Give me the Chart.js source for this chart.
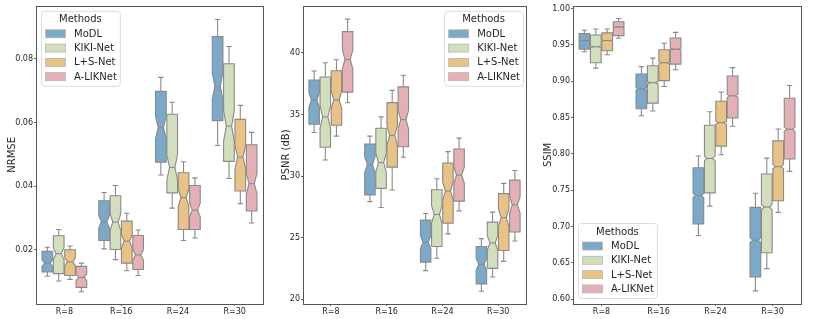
<!DOCTYPE html>
<html><head><meta charset="utf-8">
<script src="https://cdn.jsdelivr.net/npm/chart.js@4.4.1/dist/chart.umd.min.js"></script>
<style>
html,body{margin:0;padding:0;background:#fff;}
#wrap{position:relative;width:830px;height:319px;overflow:hidden;background:#fff;}
.p{position:absolute;top:0;height:319px;}
</style></head><body>
<div id="wrap">
<div class="p" style="left:0px;width:270px"><canvas id="c1"></canvas></div>
<div class="p" style="left:270px;width:275px"><canvas id="c2"></canvas></div>
<div class="p" style="left:540px;width:290px"><canvas id="c3"></canvas></div>
</div>
<script>
// ---------- data ----------
const categories = ['R=8', 'R=16', 'R=24', 'R=30'];
const methods = ['MoDL', 'KIKI-Net', 'L+S-Net', 'A-LIKNet'];
// each entry: [whisker low, Q1, median, Q3, whisker high] per category

const nrmseMoDL  = [[0.0117,0.0130,0.0158,0.0195,0.0208],[0.0203,0.0229,0.0288,0.0354,0.0380],[0.0435,0.0475,0.0584,0.0698,0.0742],[0.0528,0.0606,0.0714,0.0870,0.0924]];
const nrmseKIKI  = [[0.0102,0.0125,0.0188,0.0244,0.0264],[0.0169,0.0201,0.0287,0.0370,0.0402],[0.0331,0.0379,0.0459,0.0626,0.0664],[0.0424,0.0478,0.0589,0.0785,0.0839]];
const nrmseLS    = [[0.0107,0.0119,0.0162,0.0200,0.0212],[0.0134,0.0158,0.0227,0.0290,0.0315],[0.0229,0.0264,0.0364,0.0442,0.0477],[0.0345,0.0385,0.0491,0.0610,0.0654]];
const nrmseALIK  = [[0.0068,0.0082,0.0113,0.0148,0.0158],[0.0119,0.0138,0.0184,0.0245,0.0262],[0.0237,0.0264,0.0325,0.0402,0.0426],[0.0284,0.0322,0.0408,0.0530,0.0569]];

const psnrMoDL = [[33.53,34.20,36.17,37.80,38.53],[27.92,28.46,30.93,32.59,33.24],[22.32,23.01,24.62,26.42,26.96],[20.65,21.24,22.83,24.28,24.92]];
const psnrKIKI = [[31.30,32.33,34.80,38.04,39.20],[27.44,29.00,31.09,33.88,34.80],[23.33,24.28,26.88,28.89,29.78],[21.80,22.50,24.57,26.26,27.07]];
const psnrLS   = [[33.24,34.12,36.19,38.55,39.44],[28.86,30.72,33.30,35.96,36.95],[25.30,26.18,28.78,31.06,31.98],[23.07,23.95,26.63,28.57,29.40]];
const psnrALIK = [[35.95,36.81,39.47,41.72,42.74],[31.52,32.38,34.58,37.24,38.18],[27.17,27.96,30.07,32.19,33.08],[24.73,25.46,27.66,29.67,30.45]];

const ssimMoDL = [[0.9404,0.9440,0.9559,0.9654,0.9700],[0.8525,0.8620,0.8893,0.9098,0.9200],[0.6877,0.7035,0.7428,0.7810,0.7970],[0.6116,0.6307,0.6813,0.7264,0.7459]];
const ssimKIKI = [[0.9180,0.9254,0.9473,0.9636,0.9718],[0.8589,0.8698,0.8980,0.9213,0.9317],[0.7281,0.7464,0.7937,0.8393,0.8579],[0.6421,0.6639,0.7268,0.7724,0.7942]];
const ssimLS   = [[0.9363,0.9418,0.9559,0.9664,0.9718],[0.8926,0.9008,0.9254,0.9432,0.9522],[0.7988,0.8107,0.8429,0.8725,0.8852],[0.7195,0.7355,0.7824,0.8179,0.8343]];
const ssimALIK = [[0.9590,0.9627,0.9746,0.9818,0.9863],[0.9158,0.9235,0.9440,0.9595,0.9672],[0.8380,0.8493,0.8798,0.9071,0.9186],[0.7760,0.7929,0.8339,0.8766,0.8940]];

const nrmseTicks = [0.02, 0.04, 0.06, 0.08];
const psnrTicks  = [20, 25, 30, 35, 40];
const ssimTicks  = [0.60, 0.65, 0.70, 0.75, 0.80, 0.85, 0.90, 0.95, 1.00];

// ---------- styles ----------
const colors = ['#7aa9c9', '#d3dfbc', '#e9c286', '#e4b0b5'];
const lineGray = '#8a8a8a';
const textCol = '#262626';
const FONT = "'DejaVu Sans', sans-serif";

const notchedBoxes = {
  id: 'notchedBoxes',
  afterDatasetsDraw(chart, args, opts) {
    const ctx = chart.ctx, ys = chart.scales.y;
    ctx.save();
    ctx.lineWidth = 1.1;
    ctx.strokeStyle = lineGray;
    chart.data.datasets.forEach((ds, di) => {
      const meta = chart.getDatasetMeta(di);
      meta.data.forEach((el, j) => {
        const s = ds.stats[j];
        const w = el.width, cx = el.x;
        const L = cx - w / 2, R = cx + w / 2, cl = cx - w / 4, cr = cx + w / 4;
        const p = s.map(v => ys.getPixelForValue(v));
        const nh = opts.notch * (s[3] - s[1]);
        const nLo = ys.getPixelForValue(s[2] - nh), nHi = ys.getPixelForValue(s[2] + nh);
        // whiskers + caps
        ctx.beginPath();
        ctx.moveTo(cx, p[1]); ctx.lineTo(cx, p[0]);
        ctx.moveTo(cx, p[3]); ctx.lineTo(cx, p[4]);
        ctx.moveTo(cl, p[0]); ctx.lineTo(cr, p[0]);
        ctx.moveTo(cl, p[4]); ctx.lineTo(cr, p[4]);
        ctx.stroke();
        // notched box
        ctx.beginPath();
        ctx.moveTo(L, p[1]); ctx.lineTo(R, p[1]); ctx.lineTo(R, nLo); ctx.lineTo(cr, p[2]);
        ctx.lineTo(R, nHi); ctx.lineTo(R, p[3]); ctx.lineTo(L, p[3]); ctx.lineTo(L, nHi);
        ctx.lineTo(cl, p[2]); ctx.lineTo(L, nLo); ctx.closePath();
        ctx.fillStyle = ds.boxColor;
        ctx.fill();
        ctx.stroke();
        // median
        ctx.beginPath();
        ctx.moveTo(cl, p[2]); ctx.lineTo(cr, p[2]);
        ctx.stroke();
      });
    });
    ctx.restore();
  }
};

const frameAndLegend = {
  id: 'frameAndLegend',
  afterDraw(chart, args, opts) {
    const ctx = chart.ctx, a = chart.chartArea;
    ctx.save();
    ctx.strokeStyle = '#555';
    ctx.lineWidth = 1;
    ctx.strokeRect(Math.round(a.left) + 0.5, Math.round(a.top) + 0.5, Math.round(a.right - a.left), Math.round(a.bottom - a.top));
    // legend
    ctx.font = '10px ' + FONT;
    const labels = chart.data.datasets.map(d => d.label);
    const tw = Math.max(...labels.map(t => ctx.measureText(t).width));
    const W = 4 + 20 + 9 + tw + 3, H = 75;
    let x, y;
    if (opts.corner === 'tl') { x = a.left + 5; y = a.top + 5; }
    else if (opts.corner === 'tr') { x = a.right - 3 - W; y = a.top + 5; }
    else { x = a.left + 5; y = a.bottom - 6 - H; }
    ctx.beginPath();
    ctx.roundRect(x + 0.5, y + 0.5, W, H, 3);
    ctx.fillStyle = 'rgba(255,255,255,0.8)';
    ctx.fill();
    ctx.strokeStyle = '#dcdcdc';
    ctx.stroke();
    ctx.fillStyle = textCol;
    ctx.textAlign = 'center';
    ctx.textBaseline = 'middle';
    ctx.fillText('Methods', x + W / 2, y + 9);
    ctx.textAlign = 'left';
    chart.data.datasets.forEach((d, i) => {
      const cy = y + 23 + i * 14.3;
      ctx.fillStyle = d.boxColor;
      ctx.fillRect(x + 4.5, cy - 4, 20, 8);
      ctx.strokeStyle = '#b5b5b5';
      ctx.lineWidth = 0.8;
      ctx.strokeRect(x + 4.5, cy - 4, 20, 8);
      ctx.fillStyle = textCol;
      ctx.fillText(d.label, x + 33, cy + 0.5);
    });
    ctx.restore();
  }
};

function makeChart(id, series, ticks, yMin, yMax, yTitle, titlePad, yWidth, padRight, padTop, notch, corner) {
  const datasets = series.map((s, i) => ({
    label: methods[i],
    data: s.map(r => [r[1], r[3]]),
    stats: s,
    boxColor: colors[i],
    backgroundColor: 'rgba(0,0,0,0)',
    borderWidth: 0
  }));
  return new Chart(document.getElementById(id), {
    type: 'bar',
    data: { labels: categories, datasets },
    options: {
      responsive: true,
      maintainAspectRatio: false,
      animation: false,
      events: [],
      layout: { padding: { left: 0, right: padRight, top: padTop, bottom: 0 } },
      datasets: { bar: { categoryPercentage: 0.8, barPercentage: 0.94 } },
      plugins: {
        legend: { display: false },
        tooltip: { enabled: false },
        notchedBoxes: { notch },
        frameAndLegend: { corner }
      },
      scales: {
        x: {
          type: 'category',
          offset: true,
          grid: { display: true, drawOnChartArea: false, drawTicks: true, tickLength: 2, color: '#666', offset: false },
          border: { display: false },
          ticks: { color: textCol, font: { family: FONT, size: 8 }, padding: 1, maxRotation: 0 },
          afterFit: s => { s.height = 15; }
        },
        y: {
          type: 'linear',
          min: yMin, max: yMax,
          afterBuildTicks: s => { s.ticks = ticks.map(v => ({ value: v })); },
          grid: { display: true, drawOnChartArea: false, drawTicks: true, tickLength: 2, color: '#666' },
          border: { display: false },
          ticks: { color: textCol, font: { family: FONT, size: 8 }, padding: 1,
                   callback: v => (yTitle.startsWith('PSNR') ? String(v) : v.toFixed(2)) },
          title: { display: true, text: yTitle, color: textCol, font: { family: FONT, size: 10 }, padding: { top: titlePad, bottom: 0 } },
          afterFit: s => { s.width = yWidth; }
        }
      }
    },
    plugins: [notchedBoxes, frameAndLegend]
  });
}

makeChart('c1', [nrmseMoDL, nrmseKIKI, nrmseLS, nrmseALIK], nrmseTicks, 0.00296, 0.0967, 'NRMSE', 6, 36, 7, 3, 0.157, 'tl');
makeChart('c2', [psnrMoDL, psnrKIKI, psnrLS, psnrALIK], psnrTicks, 19.61, 43.82, 'PSNR (dB)', 10, 33, 19, 3, 0.157, 'tr');
makeChart('c3', [ssimMoDL, ssimKIKI, ssimLS, ssimALIK], ssimTicks, 0.5935, 1.0037, 'SSIM', 2, 33, 29, 4, 0.035, 'bl');
</script>
</body></html>
